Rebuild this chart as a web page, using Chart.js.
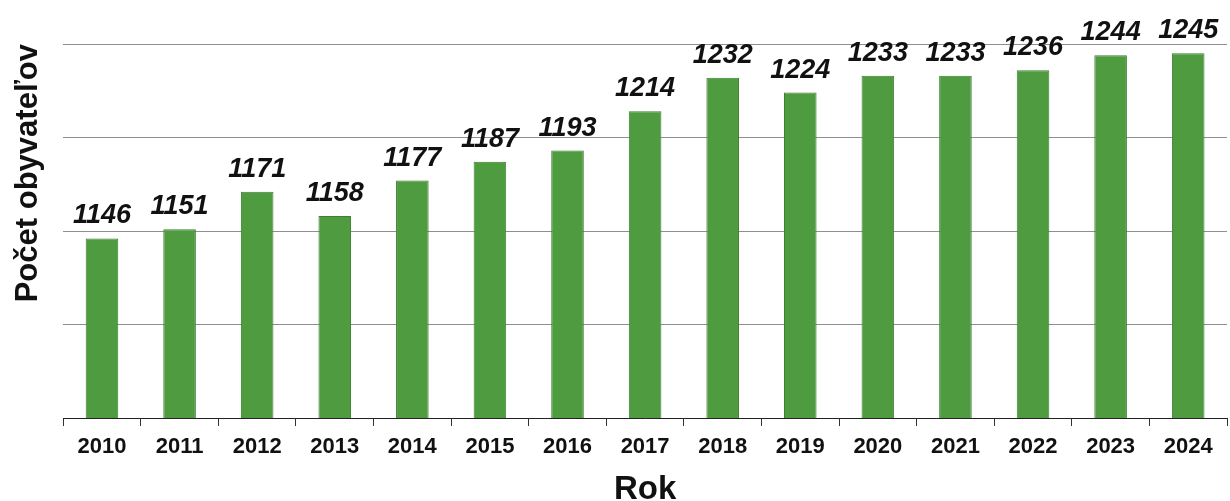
<!DOCTYPE html>
<html>
<head>
<meta charset="utf-8">
<script src="https://cdn.jsdelivr.net/npm/chart.js@4"></script>
<style>
  html, body { margin: 0; padding: 0; background: #fff; }
  #wrap { width: 1230px; height: 501px; }
</style>
</head>
<body>
<div id="wrap"><canvas id="myChart" width="1230" height="501"></canvas></div>
<script>
let roky = ["2010","2011","2012","2013","2014","2015","2016","2017","2018","2019","2020","2021","2022","2023","2024"];
let obyvatelia = [1146,1151,1171,1158,1177,1187,1193,1214,1232,1224,1233,1233,1236,1244,1245];
let yMin = 1050;
let yMax = 1250;
let yKrok = 50;

// hodnoty nad stlpcami
const popisky = {
    id: 'popisky',
    afterDatasetsDraw(chart){
        const ctx = chart.ctx;
        const meta = chart.getDatasetMeta(0);
        ctx.save();
        ctx.font = 'italic bold 27px "Liberation Sans", Arial, sans-serif';
        ctx.fillStyle = '#111';
        ctx.textAlign = 'center';
        ctx.textBaseline = 'alphabetic';
        meta.data.forEach(function(bar, i){
            ctx.fillText(obyvatelia[i], bar.x, bar.y - 15);
        });
        ctx.restore();
    }
};

const ctx = document.getElementById('myChart').getContext('2d');
const myChart = new Chart(ctx, {
    type: 'bar',
    data: {
        labels: roky,
        datasets: [{
            data: obyvatelia,
            backgroundColor: '#4f9b3f',
            borderColor: '#3e7e31',
            borderWidth: 1,
            categoryPercentage: 1,
            barPercentage: 0.42
        }]
    },
    options: {
        responsive: false,
        animation: false,
        layout: { padding: { top: 44, right: 3, bottom: 0, left: 0 } },
        plugins: {
            legend: { display: false },
            tooltip: { enabled: false }
        },
        scales: {
            x: {
                offset: true,
                afterFit: function(scale){ scale.height = 83; },
                grid: {
                    offset: true,
                    drawOnChartArea: false,
                    drawTicks: true,
                    tickLength: 8,
                    color: '#333'
                },
                border: { display: true, color: '#222', width: 1 },
                ticks: {
                    color: '#111',
                    padding: 10,
                    font: { family: '"Liberation Sans", Arial, sans-serif', size: 22, weight: 'bold', lineHeight: 1 }
                },
                title: {
                    display: true,
                    text: 'Rok',
                    color: '#111',
                    padding: { top: 0, bottom: 0 },
                    font: { family: '"Liberation Sans", Arial, sans-serif', size: 33, weight: 'bold', lineHeight: 0.7 }
                }
            },
            y: {
                min: yMin,
                max: yMax,
                ticks: { display: false, stepSize: yKrok },
                grid: { color: '#8f8f8f', lineWidth: 1, drawTicks: false },
                border: { display: false },
                title: {
                    display: true,
                    text: 'Počet obyvateľov',
                    align: 'end',
                    color: '#111',
                    padding: { top: 10, bottom: 16 },
                    font: { family: '"Liberation Sans", Arial, sans-serif', size: 31, weight: 'bold' }
                }
            }
        }
    },
    plugins: [popisky]
});
</script>
</body>
</html>
